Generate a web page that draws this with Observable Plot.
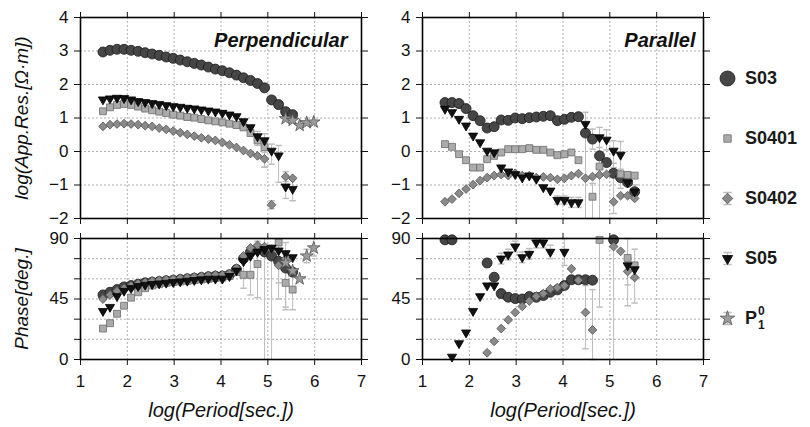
<!DOCTYPE html>
<html><head><meta charset="utf-8">
<script src="https://cdn.jsdelivr.net/npm/d3@7"></script>
<script src="https://cdn.jsdelivr.net/npm/@observablehq/plot@0.6"></script>
<style>
html,body{margin:0;padding:0;background:#fff;}
#chart{position:relative;width:810px;height:427px;overflow:hidden;font-family:"Liberation Sans",Arial,sans-serif;}
#chart svg{position:absolute;}
#chart svg [aria-label="x-axis tick label"]{font-family:"Liberation Sans Narrow","Arial Narrow","Liberation Sans",sans-serif;}
.leg{position:absolute;font:bold 18px "Liberation Sans",Arial,sans-serif;color:#1a1a1a;transform:translateY(-50%);line-height:18px;white-space:nowrap;}
.idx{position:relative;display:inline-block;width:10px;height:18px;vertical-align:top;}
.idx span{position:absolute;left:1px;font-size:12px;line-height:12px;}
</style></head><body><div id="chart"></div>
<script>
const n = null;
// log10 period grid
const logT = [1.48,1.63,1.78,1.93,2.08,2.23,2.38,2.53,2.68,2.83,2.98,3.13,3.28,3.43,3.58,3.73,3.88,4.03,4.18,4.33,4.48,4.63,4.78,4.93,5.08,5.23,5.38,5.53,5.68,5.83,5.98];
const seriesKeys = ["S03","S0401","S0402","S05","P10"];
const xTickVals = [1,2,3,4,5,6,7];
const rhoTicks = [-2,-1,0,1,2,3,4];
const phaseTicks = [0,15,30,45,60,75,90];
const phaseLabels = [0,45,90];

// Perpendicular apparent resistivity (log)
const perpRhoS03   = [2.97,3.02,3.05,3.05,3.02,2.99,2.95,2.91,2.87,2.82,2.78,2.73,2.68,2.63,2.58,2.52,2.46,2.41,2.35,2.28,2.20,2.12,2.03,1.90,1.54,1.40,1.19,1.10,n,n,n];
const perpRhoS0401 = [1.20,1.32,1.39,1.42,1.39,1.34,1.28,1.23,1.19,1.15,1.10,1.07,1.03,1.01,0.97,0.93,0.90,0.87,0.83,0.79,0.72,0.55,0.33,0.13,n,n,n,n,n,n,n];
const perpRhoS0402 = [0.75,0.80,0.82,0.83,0.82,0.80,0.77,0.75,0.70,0.66,0.61,0.56,0.51,0.46,0.41,0.37,0.33,0.27,0.20,0.12,0.03,-0.06,-0.13,-0.22,-1.59,n,-0.75,-0.80,n,n,n];
const perpRhoS05   = [1.55,1.58,1.60,1.59,1.55,1.50,1.47,1.44,1.41,1.38,1.35,1.33,1.30,1.28,1.25,1.22,1.19,1.15,1.10,1.05,0.90,0.72,0.45,0.33,0.02,-0.12,-1.05,-1.12,n,n,n];
const perpRhoP10   = [n,n,n,n,n,n,n,n,n,n,n,n,n,n,n,n,n,n,n,n,n,n,n,n,n,n,0.98,0.93,0.78,0.86,0.88];

// Parallel apparent resistivity (log)
const parRhoS03   = [1.46,1.46,1.43,1.28,1.07,0.92,0.70,0.74,0.94,0.93,1.00,0.98,1.01,1.03,1.05,1.07,0.92,0.96,1.02,1.04,0.55,0.37,-0.13,-0.33,-0.65,-0.78,-0.92,-1.20,n,n,n];
const parRhoS0401 = [0.22,0.14,-0.08,-0.26,-0.48,-0.48,-0.23,-0.13,-0.03,0.07,0.07,0.07,0.10,0.05,0.05,-0.03,-0.11,-0.08,-0.03,-0.26,n,-1.35,-0.45,n,n,-0.68,-0.70,-0.72,n,n,n];
const parRhoS0402 = [-1.50,-1.42,-1.25,-1.12,-0.99,-0.87,-0.78,-0.72,-0.69,-0.72,-0.65,-0.72,-0.72,-0.78,-0.76,-0.78,-0.83,-0.80,-0.72,-0.66,-0.80,-0.75,-0.70,-0.68,-1.50,-1.32,-1.32,-1.40,n,n,n];
const parRhoS05   = [1.27,1.17,0.97,0.77,0.47,0.27,0.02,-0.03,-0.48,-0.60,-0.68,-0.78,-0.72,-0.82,-1.07,-1.17,-1.45,-1.45,-1.52,-1.52,0.82,n,0.42,0.35,0.02,-0.10,-0.93,-1.20,n,n,n];

// Perpendicular phase (deg)
const perpPhS03   = [48,50,52,54,55,56,57,57.5,58,58.5,59,59.5,60,60.5,61,61.5,62,62,63,67,75,80,82,80,77,73,68,65,n,n,n];
const perpPhS0401 = [23,27,34,40,46,50,53,55,56,57,57.5,58,58.5,59,59.5,60,60.5,61,62,65,63,63,71,n,n,87,57,52,n,n,n];
const perpPhS0402 = [45,48,51,53,55,56.5,57.5,58.5,59,59.5,60,60.5,61,61.5,62,62.5,63,63,64,68,77,83,85,84,82,70,75,66,n,n,n];
const perpPhS05   = [36,39,47,51,53,54.5,55.5,56,56.5,57,57.5,58,58.5,59,59.5,60,60,60,62,66,73,77,80,82,83,81,79,76,n,n,n];
const perpPhP10   = [n,n,n,n,n,n,n,n,n,n,n,n,n,n,n,n,n,n,n,n,n,n,n,n,n,n,72,66,60,77,83];

// Parallel phase (deg)
const parPhS03   = [89,89,n,n,n,n,71.8,61.2,49,46.3,45.3,45,46.8,46.3,47.6,50,51.8,55,59.3,59.3,59.3,59,n,n,89,n,n,n,n,n,n];
const parPhS0401 = [n,n,n,n,n,n,n,n,n,n,n,n,n,n,n,n,n,n,n,n,n,n,89,n,n,n,75.5,70,n,n,n];
const parPhS0402 = [n,n,n,n,n,n,5,13.5,23,29.5,35,39.5,43.5,47,49,52.5,53.5,55,67.5,59,35,22,n,n,84,80.5,65.5,61,n,n,n];
const parPhS05   = [n,2,12,20,36,47,55,55,75,78,84,76,78.5,87,87,80,n,80,n,n,n,n,n,n,n,n,70,67,n,n,n];

// error bars: [series, logT, minus, plus]
const errPerpRho = [["S0401",4.78,0.15,0.15],["S0401",4.93,0.6,0.15],["S0402",4.93,0.25,0.2],["S05",4.78,0.15,0.15],["S05",4.93,0.2,0.2],["S05",5.08,0.4,0.2],["S05",5.23,0.8,0.3],["S0402",5.08,0.12,0.12],["S05",5.38,0.35,0.3],["S05",5.53,0.35,0.3],["S0402",5.38,0.15,0.15],["S03",5.38,0.08,0.08]];
const errParRho = [["S05",3.88,0.12,0.12],["S05",4.03,0.12,0.12],["S05",4.18,0.15,0.15],["S05",4.33,0.15,0.15],["S05",4.48,3,0.35],["S03",4.63,0.3,0.3],["S0401",4.63,0.7,0.4],["S0401",4.78,1.6,0.3],["S03",4.78,0.6,0.5],["S05",4.78,0.3,0.3],["S05",4.93,0.3,0.3],["S03",5.08,1.2,0.3],["S05",5.08,0.5,0.3],["S05",5.23,1.0,0.4],["S0401",5.23,0.15,0.15],["S03",5.53,0.2,0.2]];
const errPerpPh = [["S03",4.78,10,6],["S0401",4.48,10,10],["S0401",4.63,15,15],["S0401",4.78,25,12],["S05",4.93,90,10],["S03",5.08,90,8],["S0401",5.23,30,15],["S0402",5.23,25,12],["S0401",5.38,20,15],["S0401",5.53,15,12],["S05",5.38,40,8],["P10",5.83,5,5],["P10",5.98,6,8]];
const errParPh = [["S03",2.38,3,3],["S05",2.68,4,4],["S05",2.83,4,4],["S05",2.98,4,4],["S05",3.13,4,4],["S05",3.28,4,4],["S05",3.43,4,4],["S05",3.58,4,4],["S05",3.73,5,5],["S05",4.03,10,10],["S0402",4.48,27,20],["S0402",4.63,22,30],["S0401",4.78,50,1],["S03",5.08,90,1],["S05",5.38,30,20],["S05",5.53,25,15],["S0401",5.38,20,15]];

// symbols
const diamondSym = {draw(c, size){const s = Math.sqrt(size/2); c.moveTo(0,-s); c.lineTo(s,0); c.lineTo(0,s); c.lineTo(-s,0); c.closePath();}};
const triDownSym = {draw(c, size){const y = Math.sqrt(size/(3*Math.sqrt(3))); const k = Math.sqrt(3)*y; c.moveTo(0,2*y); c.lineTo(-k,-y); c.lineTo(k,-y); c.closePath();}};
const capSym = {draw(c, size){const w = Math.sqrt(size); c.moveTo(-w,0); c.lineTo(w,0);}};
const errSym = {draw(c, size){const h = Math.sqrt(size); const w = h*0.7; c.moveTo(-w,-h); c.lineTo(w,-h); c.moveTo(0,-h); c.lineTo(0,h); c.moveTo(-w,h); c.lineTo(w,h);}};

const styles = {
  S03:   {symbol:"circle", fill:"#464646", stroke:"#1c1c1c", r:5.0, lr:7.5},
  S0401: {symbol:"square", fill:"#ababab", stroke:"#6c6c6c", r:3.9, lr:4.2},
  S0402: {symbol:diamondSym, fill:"#8a8a8a", stroke:"#505050", r:3.5, lr:4.2},
  S05:   {symbol:triDownSym, fill:"#111", stroke:"#000", r:3.4, lr:3.8},
  P10:   {symbol:"star", fill:"#9c9c9c", stroke:"#555", r:4.0, lr:4.6}
};
const errColor = "#bdbdbd";
const gridStyle = {stroke:"#9a9a9a", strokeOpacity:1, strokeDasharray:"2,2", strokeWidth:0.8};
const condensed = "'Liberation Sans Narrow','Arial Narrow','Liberation Sans',sans-serif";

const chart = document.getElementById("chart");

function makePanel(cfg){
  const {data, errs, yDomain, yTicks, yFmt, bottom, yLabel, title, titleDx, left, top, mt, mb} = cfg;
  const [lo, hi] = yDomain;
  const errRows = errs.map(([s, t, m, p]) => {
    const v = data[s][logT.indexOf(t)];
    return {x:t, y1:Math.max(lo, v-m), y2:Math.min(hi, v+p), capLo:v-m >= lo, capHi:v+p <= hi};
  });
  const marks = [
    Plot.gridX({ticks:xTickVals, ...gridStyle}),
    Plot.gridY({ticks:yTicks, ...gridStyle}),
    Plot.ruleX(errRows, {x:"x", y1:"y1", y2:"y2", stroke:errColor, strokeWidth:1}),
    Plot.dot(errRows.filter(d => d.capLo), {x:"x", y:"y1", symbol:capSym, r:1.8, stroke:errColor, fill:"none"}),
    Plot.dot(errRows.filter(d => d.capHi), {x:"x", y:"y2", symbol:capSym, r:1.8, stroke:errColor, fill:"none"})
  ];
  for (const s of seriesKeys){
    const arr = data[s];
    if (!arr) continue;
    const rows = [];
    arr.forEach((v,i) => { if (v != null) rows.push({x:logT[i], y:v}); });
    const st = styles[s];
    marks.push(Plot.dot(rows, {x:"x", y:"y", symbol:st.symbol, r:st.r, fill:st.fill, stroke:st.stroke, strokeWidth:0.8}));
  }
  marks.push(
    Plot.frame({stroke:"#000", strokeWidth:1.6}),
    Plot.axisX({anchor:"bottom", ticks:xTickVals, tickSize:6, tickPadding:9, label:null, tickFormat: bottom ? (d => d) : (() => ""), fontSize:17}),
    Plot.axisX({anchor:"top", ticks:xTickVals, tickSize:6, label:null, tickFormat:() => ""}),
    Plot.axisY({anchor:"left", ticks:yTicks, tickSize:6, tickPadding:6, label:null, tickFormat:yFmt, fontSize:17}),
    Plot.axisY({anchor:"right", ticks:yTicks, tickSize:6, label:null, tickFormat:() => ""})
  );
  if (yLabel) marks.push(Plot.text([yLabel], {frameAnchor:"left", dx:-59, rotate:-90, textAnchor:"middle", lineAnchor:"middle", fontSize:19, fontStyle:"italic", fill:"#111"}));
  if (bottom) marks.push(Plot.text(["log(Period[sec.])"], {frameAnchor:"bottom", dy:51, textAnchor:"middle", lineAnchor:"middle", fontSize:20, fontStyle:"italic", fontFamily:condensed, fill:"#111"}));
  if (title) marks.push(Plot.text([title], {frameAnchor:"top-right", dx:titleDx, dy:23, textAnchor:"end", lineAnchor:"middle", fontSize:20, fontWeight:"bold", fontStyle:"italic", fill:"#111"}));
  const frameW = 281, frameH = bottom ? 121 : 201;
  const svg = Plot.plot({
    width: 80 + frameW + 12, height: mt + frameH + mb,
    marginLeft:80, marginRight:12, marginTop:mt, marginBottom:mb,
    x:{domain:[1,7]}, y:{domain:yDomain},
    style:{background:"none", overflow:"visible", fontFamily:"'Liberation Sans',Arial,sans-serif", fontSize:"17px", color:"#111"},
    marks
  });
  svg.style.left = left + "px";
  svg.style.top = top + "px";
  chart.appendChild(svg);
}

const rhoFmt = d => d3.format("d")(d).replace("-", "\u2212");
const phFmt = d => phaseLabels.includes(d) ? String(d) : "";

makePanel({data:{S03:perpRhoS03,S0401:perpRhoS0401,S0402:perpRhoS0402,S05:perpRhoS05,P10:perpRhoP10}, errs:errPerpRho, yDomain:[-2,4], yTicks:rhoTicks, yFmt:rhoFmt, bottom:false, yLabel:"log(App.Res.[\u03A9\u00B7m])", title:"Perpendicular", titleDx:-14, left:0, top:0, mt:17, mb:12});
makePanel({data:{S03:parRhoS03,S0401:parRhoS0401,S0402:parRhoS0402,S05:parRhoS05}, errs:errParRho, yDomain:[-2,4], yTicks:rhoTicks, yFmt:rhoFmt, bottom:false, yLabel:null, title:"Parallel", titleDx:-8, left:342, top:0, mt:17, mb:12});
makePanel({data:{S03:perpPhS03,S0401:perpPhS0401,S0402:perpPhS0402,S05:perpPhS05,P10:perpPhP10}, errs:errPerpPh, yDomain:[0,90], yTicks:phaseTicks, yFmt:phFmt, bottom:true, yLabel:"Phase[deg.]", title:null, left:0, top:218, mt:20, mb:68});
makePanel({data:{S03:parPhS03,S0401:parPhS0401,S0402:parPhS0402,S05:parPhS05}, errs:errParPh, yDomain:[0,90], yTicks:phaseTicks, yFmt:phFmt, bottom:true, yLabel:null, title:null, left:342, top:218, mt:20, mb:68});

// legend
const legendErr = ["S0402","S05","P10"];
const legend = Plot.plot({
  width:40, height:300, margin:0,
  x:{domain:[0,1], axis:null},
  y:{type:"point", domain:seriesKeys, range:[37,278], padding:0, axis:null},
  style:{background:"none", overflow:"visible"},
  marks:[
    Plot.dot(legendErr, {x:() => 0.5, y:d => d, symbol:errSym, r:3.4, stroke:errColor, fill:"none"}),
    ...seriesKeys.map(s => Plot.dot([s], {x:() => 0.5, y:d => d, symbol:styles[s].symbol, r:styles[s].lr, fill:styles[s].fill, stroke:styles[s].stroke, strokeWidth:0.8}))
  ]
});
legend.style.left = "707px";
legend.style.top = "40px";
chart.appendChild(legend);
const ly = legend.scale("y");
const legendLabels = {S03:"S03", S0401:"S0401", S0402:"S0402", S05:"S05", P10:"P<span class=\"idx\"><span style=\"top:-4px\">0</span><span style=\"top:10px\">1</span></span>"};
for (const s of seriesKeys){
  const div = document.createElement("div");
  div.className = "leg";
  div.innerHTML = legendLabels[s];
  div.style.left = "745px";
  div.style.top = (40 + ly.apply(s)) + "px";
  chart.appendChild(div);
}
</script></body></html>
